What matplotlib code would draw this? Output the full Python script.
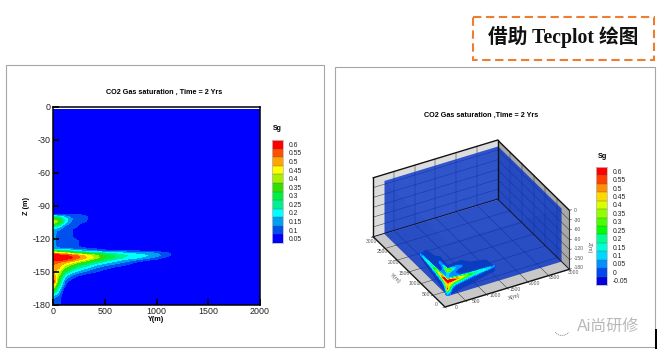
"""Recreate the CO2 gas saturation slide: 2D Y-Z contour and 3D Tecplot box."""

import matplotlib

matplotlib.use("Agg")

import matplotlib.pyplot as plt
import numpy as np
from matplotlib.colors import BoundaryNorm, ListedColormap
from matplotlib.patches import Ellipse, Rectangle
from mpl_toolkits.mplot3d import proj3d
from mpl_toolkits.mplot3d.art3d import Poly3DCollection

plt.rcParams["font.family"] = ["Liberation Sans", "Noto Sans CJK SC", "DejaVu Sans"]
plt.rcParams["axes.unicode_minus"] = False

WIDTH, HEIGHT = 659, 355

TITLE_2D = "CO2 Gas saturation , Time = 2 Yrs"
TITLE_3D = "CO2 Gas saturation ,Time = 2 Yrs"
HEADER = "借助 Tecplot 绘图"
WATERMARK = "Ai尚研修"

Y_TICKS_2D = [0, 500, 1000, 1500, 2000]
Z_TICKS_2D = [0, -30, -60, -90, -120, -150, -180]

LABELS_2D = ["0.05", "0.1", "0.15", "0.2", "0.25", "0.3", "0.35", "0.4", "0.45", "0.5", "0.55", "0.6"]
COLORS_2D = ["#0000ff", "#0050f0", "#00a0f0", "#00ffff", "#00f090", "#00f040",
             "#30e000", "#a8f000", "#ffff00", "#ffa500", "#ff5000", "#ff0000"]
LEVELS_2D = [0.075, 0.125, 0.175, 0.225, 0.275, 0.325, 0.375, 0.425, 0.475, 0.525, 0.575]

LABELS_3D = ["-0.05", "0", "0.05", "0.1", "0.15", "0.2", "0.25", "0.3", "0.35", "0.4", "0.45", "0.5", "0.55", "0.6"]
COLORS_3D = ["#0000e0", "#0048f0", "#0090ff", "#00d8ff", "#00ffd8", "#00ff90", "#00ff00",
             "#48ff00", "#90ff00", "#d8ff00", "#ffd800", "#ff9000", "#ff4000", "#ff0000"]

# plume: Sg by depth (rows) and distance (columns)
PLUME_Y = [0, 60, 120, 180, 240, 320, 400, 500, 600, 700, 800, 900, 1000, 1100, 1150]
PLUME_Z = [-96, -98, -100, -102, -104, -106, -108, -111, -113, -118, -122, -127, -129, -131,
           -133, -135, -137, -139, -141, -144, -147, -150, -153, -156, -159, -162, -165,
           -168, -171, -174, -180]
PLUME_SG = [
    [0, 0, 0, 0, 0, 0, 0, 0, 0, 0, 0, 0, 0, 0, 0],
    [.10, .09, .085, .09, .08, .06, 0, 0, 0, 0, 0, 0, 0, 0, 0],
    [.24, .22, .16, .11, .09, .085, 0, 0, 0, 0, 0, 0, 0, 0, 0],
    [.34, .32, .20, .13, .10, .085, 0, 0, 0, 0, 0, 0, 0, 0, 0],
    [.42, .36, .20, .12, .09, .078, 0, 0, 0, 0, 0, 0, 0, 0, 0],
    [.38, .30, .17, .10, .085, .04, 0, 0, 0, 0, 0, 0, 0, 0, 0],
    [.28, .22, .12, .09, .08, 0, 0, 0, 0, 0, 0, 0, 0, 0, 0],
    [.17, .14, .09, .085, .03, 0, 0, 0, 0, 0, 0, 0, 0, 0, 0],
    [.145, .11, .09, .08, 0, 0, 0, 0, 0, 0, 0, 0, 0, 0, 0],
    [.14, .10, .09, .08, .03, 0, 0, 0, 0, 0, 0, 0, 0, 0, 0],
    [.14, .10, .09, .085, .08, .03, 0, 0, 0, 0, 0, 0, 0, 0, 0],
    [.14, .10, .09, .085, .08, .04, 0, 0, 0, 0, 0, 0, 0, 0, 0],
    [.15, .14, .13, .12, .10, .09, .08, .04, 0, 0, 0, 0, 0, 0, 0],
    [.30, .28, .25, .22, .19, .16, .13, .11, .09, .085, .08, .07, .05, .03, 0],
    [.50, .48, .44, .38, .33, .30, .27, .24, .21, .18, .16, .14, .13, .10, .06],
    [.62, .60, .58, .56, .52, .46, .40, .32, .27, .23, .20, .18, .14, .10, .06],
    [.64, .62, .60, .58, .54, .48, .42, .33, .27, .22, .19, .15, .11, .06, 0],
    [.60, .59, .57, .54, .49, .42, .34, .27, .21, .16, .13, .09, .06, 0, 0],
    [.54, .53, .50, .46, .40, .33, .27, .21, .16, .12, .08, .03, 0, 0, 0],
    [.52, .50, .42, .35, .29, .24, .18, .13, .10, .07, 0, 0, 0, 0, 0],
    [.50, .47, .35, .28, .22, .17, .12, .09, .05, 0, 0, 0, 0, 0, 0],
    [.50, .42, .28, .20, .15, .11, .085, .03, 0, 0, 0, 0, 0, 0, 0],
    [.52, .38, .20, .13, .09, .05, 0, 0, 0, 0, 0, 0, 0, 0, 0],
    [.55, .33, .14, .08, 0, 0, 0, 0, 0, 0, 0, 0, 0, 0, 0],
    [.58, .30, .10, .03, 0, 0, 0, 0, 0, 0, 0, 0, 0, 0, 0],
    [.48, .25, .08, 0, 0, 0, 0, 0, 0, 0, 0, 0, 0, 0, 0],
    [.38, .20, .03, 0, 0, 0, 0, 0, 0, 0, 0, 0, 0, 0, 0],
    [.30, .16, 0, 0, 0, 0, 0, 0, 0, 0, 0, 0, 0, 0, 0],
    [.20, .12, 0, 0, 0, 0, 0, 0, 0, 0, 0, 0, 0, 0, 0],
    [.13, .09, 0, 0, 0, 0, 0, 0, 0, 0, 0, 0, 0, 0, 0],
    [.12, .085, 0, 0, 0, 0, 0, 0, 0, 0, 0, 0, 0, 0, 0],
]
TOP_OF_DATA = -2.5
RIGHT_OF_DATA = 2000

# dark blue halo around the plume in the 3D view
HALO_DIST = [0, 0, 330, 530, 930, 1135, 1135]
HALO_Z = [-180, -85, -82, -95, -104, -135, -147]

BOX_TICKS_XY = [0, 500, 1000, 1500, 2000, 2500, 3000]
BOX_TICKS_Z = [0, -30, -60, -90, -120, -150, -180]
DOMAIN_X0 = 260
DOMAIN_Y0 = 350
DOMAIN_Z1 = -18


def pixel_axes(fig, left, top, right, bottom, **kwargs):
    return fig.add_axes(
        [left / WIDTH, 1 - bottom / HEIGHT, (right - left) / WIDTH, (bottom - top) / HEIGHT],
        **kwargs,
    )


def draw_colorbar(fig, box, labels, colors, fontsize=4.9):
    ax = pixel_axes(fig, *box, zorder=3)
    n = len(labels)
    edges = np.arange(n + 1)
    ax.pcolormesh(
        [0, 1], edges, np.arange(n).reshape(-1, 1),
        cmap=ListedColormap(colors), norm=BoundaryNorm(edges, n),
    )
    for edge in edges[1:-1]:
        ax.axhline(edge, color="#555555", linewidth=0.25)
    ax.set_xticks([])
    ax.yaxis.tick_right()
    ax.set_yticks(edges[:-1] + 0.5, labels)
    ax.tick_params(axis="y", length=0, pad=4, labelsize=fontsize, labelcolor="#222222")
    for spine in ax.spines.values():
        spine.set_color("#bbbbbb")
        spine.set_linewidth(0.6)


def draw_background(fig):
    ax = fig.add_axes([0, 0, 1, 1], zorder=0)
    ax.set_xlim(0, WIDTH)
    ax.set_ylim(HEIGHT, 0)
    ax.axis("off")
    ax.add_patch(Rectangle((5.5, 64.5), 318, 282, fc="white", ec="#a6a6a6", lw=0.8))
    ax.add_patch(Rectangle((334.5, 66.5), 320, 280, fc="white", ec="#a6a6a6", lw=0.8))
    ax.add_patch(Rectangle((472.5, 16.5), 181, 43, fc="white", ec="#ed7d31", lw=1.5,
                           linestyle=(0, (4, 2.2))))
    ax.add_patch(Rectangle((655, 329), 2.2, 20, fc="black", ec="none"))
    ax.text(563, 37, HEADER, ha="center", va="center", fontsize=14.2, fontweight="bold",
            family=["Liberation Serif", "Noto Sans CJK SC"], color="#111111")
    ax.text(164, 92, TITLE_2D, ha="center", va="center", fontsize=5.2, fontweight="bold")
    ax.text(481, 115, TITLE_3D, ha="center", va="center", fontsize=5.2, fontweight="bold")
    ax.text(277, 129, "Sg", ha="center", va="center", fontsize=5, fontweight="bold")
    ax.text(602, 157, "Sg", ha="center", va="center", fontsize=5.2, fontweight="bold")
    ax.text(577, 326, WATERMARK, ha="left", va="center", fontsize=11.5, color="#b8b8b8",
            family=["Liberation Sans", "Noto Sans CJK SC"])
    ax.add_patch(Ellipse((552, 323), 15, 13, fc="none", ec="#999999", lw=0.7, linestyle=(0, (1, 1))))
    ax.add_patch(Ellipse((562, 329), 15, 13, fc="white", ec="#888888", lw=0.7, linestyle=(0, (1, 1))))


def draw_contour_panel(fig):
    ax = pixel_axes(fig, 53, 106.7, 260, 305, zorder=2)
    distance = [*PLUME_Y, PLUME_Y[-1] + 50, RIGHT_OF_DATA]
    depth = [TOP_OF_DATA, *PLUME_Z]
    sg = np.pad(np.array(PLUME_SG), ((1, 0), (0, 2)))
    ax.contourf(distance, depth[::-1], sg[::-1], levels=LEVELS_2D, colors=COLORS_2D, extend="both")
    ax.set_xlim(0, 2000)
    ax.set_ylim(-180, 0)
    ax.set_xticks(Y_TICKS_2D)
    ax.set_yticks(Z_TICKS_2D)
    ax.tick_params(direction="in", length=4, width=1.2, labelsize=6.4, pad=1.5, labelcolor="#222222")
    for spine in ax.spines.values():
        spine.set_linewidth(1.1)
    ax.set_xlabel("Y(m)", fontsize=5.2, fontweight="bold", labelpad=0)
    ax.set_ylabel("Z (m)", fontsize=5.2, fontweight="bold", labelpad=2)


def project(ax, x, y, z):
    px, py, _ = proj3d.proj_transform(x, y, z, ax.get_proj())
    return ax.transData.transform((px, py))


def fit_box(fig, ax):
    # scale and shift the 3D axes so the floor corners land where the reference has them
    target_origin = np.array([445.0, HEIGHT - 307.0])
    target_run = 130.0
    size = 320.0
    left, bottom = 340.0, 20.0
    for _ in range(3):
        ax.set_position([left / WIDTH, bottom / HEIGHT, size / WIDTH, size / HEIGHT])
        fig.canvas.draw()
        run = np.linalg.norm(project(ax, 3000, 0, -180) - project(ax, 0, 0, -180))
        size *= target_run / run
        ax.set_position([left / WIDTH, bottom / HEIGHT, size / WIDTH, size / HEIGHT])
        fig.canvas.draw()
        left, bottom = np.array([left, bottom]) + target_origin - project(ax, 0, 0, -180)
    ax.set_position([left / WIDTH, bottom / HEIGHT, size / WIDTH, size / HEIGHT])
    fig.canvas.draw()


def add_poly(ax, points, **kwargs):
    ax.add_collection3d(Poly3DCollection([points], linewidths=0, **kwargs))


def box_label(fig, ax, x, y, z, text, **kwargs):
    # plain figure text at the projected spot of a 3D point
    px, py = project(ax, x, y, z)
    style = {"fontsize": 3.6, "color": "#555555", "ha": "center", "va": "center", "zorder": 12}
    fig.text(px / WIDTH, py / HEIGHT, text, **{**style, **kwargs})


def draw_box_panel(fig):
    ax = fig.add_axes([0.5, 0.05, 0.45, 0.8], projection="3d", computed_zorder=False, zorder=2)
    ax.set_proj_type("ortho")
    ax.view_init(elev=33, azim=240.9)
    ax.set_box_aspect((142.3, 147.5, 70.3))
    ax.set_xlim(0, 3000, view_margin=0)
    ax.set_ylim(0, 3000, view_margin=0)
    ax.set_zlim(-180, 0, view_margin=0)
    ax.set_axis_off()
    fit_box(fig, ax)

    x0, x1, y0, y1, z0, z1 = 0, 3000, 0, 3000, -180, 0
    add_poly(ax, [(x0, y1, z0), (x1, y1, z0), (x1, y1, z1), (x0, y1, z1)], color="#dcdcdc", zorder=1)
    add_poly(ax, [(x1, y0, z0), (x1, y1, z0), (x1, y1, z1), (x1, y0, z1)], color="#a8a8a8", zorder=1)
    add_poly(ax, [(x0, y0, z0), (x1, y0, z0), (x1, y1, z0), (x0, y1, z0)], color="#c8c8c8", zorder=1)

    grid = {"color": "#333333", "linewidth": 0.35, "zorder": 5}
    for tick in BOX_TICKS_XY[1:-1]:
        ax.plot([tick, tick], [y1, y1], [z0, z1], **grid)
        ax.plot([x1, x1], [tick, tick], [z0, z1], **grid)
        ax.plot([tick, tick], [y0, y1], [z0, z0], **grid)
        ax.plot([x0, x1], [tick, tick], [z0, z0], **grid)
    for tick in BOX_TICKS_Z[1:-1]:
        ax.plot([x0, x1], [y1, y1], [tick, tick], **grid)
        ax.plot([x1, x1], [y0, y1], [tick, tick], **grid)

    dx, dy, dz = DOMAIN_X0, DOMAIN_Y0, DOMAIN_Z1
    back = {"color": (0.02, 0.2, 0.78, 0.80), "zorder": 6}
    add_poly(ax, [(dx, y1, z0), (x1, y1, z0), (x1, y1, dz), (dx, y1, dz)], **back)
    add_poly(ax, [(x1, dy, z0), (x1, y1, z0), (x1, y1, dz), (x1, dy, dz)], **back)
    add_poly(ax, [(dx, dy, z0), (x1, dy, z0), (x1, y1, z0), (dx, y1, z0)], **back)
    front = {"color": (0.0, 0.1, 0.55, 0.06), "zorder": 7}
    add_poly(ax, [(dx, dy, z0), (dx, y1, z0), (dx, y1, dz), (dx, dy, dz)], **front)
    add_poly(ax, [(dx, dy, z0), (x1, dy, z0), (x1, dy, dz), (dx, dy, dz)], **front)

    add_poly(ax, [(dx, dy + d, z) for d, z in zip(HALO_DIST, HALO_Z)], color="#0a3cc0", zorder=8)
    add_poly(ax, [(dx + d, dy, z) for d, z in zip(HALO_DIST, HALO_Z)], color="#0a3cc0", zorder=8)

    levels = [0.03, *LEVELS_2D, 2.0]
    colors = [*COLORS_3D[1:12], COLORS_3D[-1]]
    dist_grid, depth_grid = np.meshgrid(PLUME_Y, PLUME_Z)
    sg = np.array(PLUME_SG, dtype=float)
    # mplot3d takes the contoured value in the axis named by zdir
    ax.contourf(sg, dist_grid + dy, depth_grid, levels=levels, colors=colors, zdir="x", offset=dx, zorder=9)
    ax.contourf(dist_grid + dx, sg, depth_grid, levels=levels, colors=colors, zdir="y", offset=dy, zorder=10)

    heavy = {"color": "#111111", "linewidth": 1.0, "zorder": 11}
    ax.plot([x0, x1, x1], [y1, y1, y0], [z1, z1, z1], **heavy)
    ax.plot([x0, x0], [y1, y1], [z0, z1], **heavy)
    ax.plot([x1, x1], [y1, y1], [z0, z1], **heavy)
    ax.plot([x0, x1, x1], [y1, y1, y0], [z0, z0, z0], color="#111133", linewidth=0.7, zorder=11)
    ax.plot([x1, x1], [y0, y0], [z0, z1], color="#333333", linewidth=0.8, zorder=11)
    ax.plot([x0, x0, x1], [y1, y0, y0], [z0, z0, z0], **heavy)

    mark = {"color": "#333333", "linewidth": 0.4, "zorder": 11}
    for tick in BOX_TICKS_XY:
        ax.plot([tick, tick], [y0, -50], [z0, z0], **mark)
        ax.plot([x0, -50], [tick, tick], [z0, z0], **mark)
        box_label(fig, ax, tick * 0.94 + 200, -130, z0, str(tick))
        box_label(fig, ax, -120, tick * 0.907 + 150, z0, str(tick))
    for tick in BOX_TICKS_Z:
        ax.plot([x1, x1 + 50], [y0, y0], [tick, tick], **mark)
        box_label(fig, ax, x1 + 60, y0 - 60, tick * 0.96, str(tick), ha="left")
    box_label(fig, ax, 1460, -356, z0, "X(m)", rotation=17, fontsize=4.2)
    box_label(fig, ax, -382, 1430, z0, "Y(m)", rotation=-42, fontsize=4.2)
    box_label(fig, ax, 3480, y0, -133, "Z(m)", rotation=-90, fontsize=3.8)


def main():
    fig = plt.figure(figsize=(WIDTH / 100, HEIGHT / 100), dpi=100, facecolor="white")
    draw_background(fig)
    draw_contour_panel(fig)
    draw_colorbar(fig, (272, 140, 283, 243), LABELS_2D, COLORS_2D)
    draw_box_panel(fig)
    draw_colorbar(fig, (596, 167, 607, 285), LABELS_3D, COLORS_3D)
    fig.savefig("out.png", dpi=100, facecolor="white")


if __name__ == "__main__":
    main()
